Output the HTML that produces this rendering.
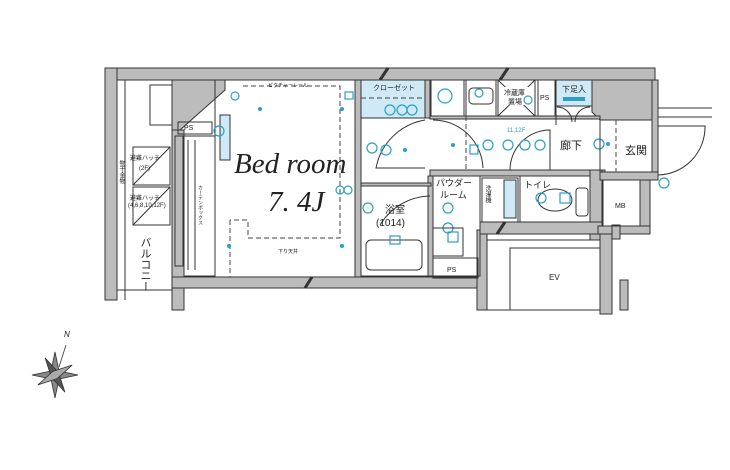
<!DOCTYPE html>
<html><head><meta charset="utf-8"><style>
html,body{margin:0;padding:0;background:#fff;width:730px;height:470px;overflow:hidden}
svg{display:block}
text{font-family:"Liberation Sans","Noto Sans CJK JP",sans-serif;fill:#222}
.w{fill:#bcbcbc;stroke:#333;stroke-width:1}
.l{fill:none;stroke:#333;stroke-width:1}
.d{fill:none;stroke:#444;stroke-width:1;stroke-dasharray:5,3}
.b{fill:none;stroke:#2aa0c8;stroke-width:1.2}
.bf{fill:#2aa0c8}
.lb{fill:#cfeaf6;stroke:#333;stroke-width:1}
</style></head><body>
<svg width="730" height="470" viewBox="0 0 730 470" xmlns="http://www.w3.org/2000/svg">
<rect class="w" x="105" y="68" width="550" height="12"/>
<rect class="w" x="105" y="68" width="12" height="232"/>
<polygon class="w" points="165,80 225,80 225,90 180,130 172,130 172,80"/>
<polygon class="w" points="592,80 655,80 655,120 600,120 592,112"/>
<rect class="w" x="652" y="80" width="6" height="100"/>
<rect class="w" x="172" y="130" width="12" height="180"/>
<rect class="w" x="172" y="277" width="315" height="11"/>
<rect class="w" x="477" y="230" width="10" height="80"/>
<rect class="w" x="355" y="80" width="6" height="197"/>
<rect class="w" x="425" y="80" width="5" height="38"/>
<rect class="w" x="430" y="116" width="170" height="3"/>
<rect class="w" x="430" y="170" width="175" height="6"/>
<rect class="w" x="590" y="170" width="12" height="70"/>
<rect class="w" x="480" y="222" width="122" height="12"/>
<rect class="w" x="600" y="172" width="58" height="8"/>
<rect class="w" x="640" y="180" width="10" height="50"/>
<rect class="w" x="598" y="226" width="52" height="8"/>
<rect class="w" x="600" y="234" width="12" height="80"/>
<rect class="w" x="612" y="225" width="8" height="14"/>
<rect class="w" x="428" y="176" width="5" height="100"/>
<rect class="w" x="361" y="183" width="70" height="3"/>
<line x1="380" y1="80" x2="388" y2="68" stroke="#333" stroke-width="3"/>
<line x1="500" y1="80" x2="508" y2="68" stroke="#333" stroke-width="3"/>
<line x1="305" y1="288" x2="312" y2="277" stroke="#333" stroke-width="3"/>
<line x1="497" y1="234" x2="505" y2="222" stroke="#333" stroke-width="3"/>
<line class="l" x1="125" y1="80" x2="125" y2="300"/>
<rect class="l" x="150" y="85" width="22" height="40"/>
<rect class="l" x="133" y="147" width="37" height="38"/><line class="l" x1="133" y1="185" x2="170" y2="147"/>
<rect class="l" x="133" y="187" width="37" height="38"/><line class="l" x1="133" y1="225" x2="170" y2="187"/>
<rect class="l" x="175" y="136" width="8" height="130"/>
<line class="l" x1="117" y1="290" x2="172" y2="290"/>
<text x="130" y="160" font-size="6">避難ハッチ</text><text x="139" y="170" font-size="6">(2F)</text>
<text x="130" y="200" font-size="6">避難ハッチ</text><text x="128" y="207" font-size="6">(4,6,8,10,12F)</text>
<text x="145" y="237" font-size="11" writing-mode="tb">バルコニー</text>
<text x="121" y="160" font-size="6" writing-mode="tb">物干金物</text>
<text x="184" y="130" font-size="7">PS</text>
<rect class="l" x="178" y="122" width="34" height="12"/>
<rect class="l" x="184" y="136" width="31" height="140"/>
<line class="l" x1="188" y1="140" x2="188" y2="270"/><line class="l" x1="195" y1="140" x2="195" y2="270"/>
<text x="200" y="185" font-size="5" writing-mode="tb">カーテンボックス</text>
<rect class="l" x="215" y="80" width="140" height="197"/>
<path class="d" d="M243,86 H340 V238 H248 V220 H230"/>
<line class="d" x1="230" y1="220" x2="230" y2="277"/>
<text x="268" y="87" font-size="5">ピクチャーレール</text>
<text x="278" y="253" font-size="5">下り天井</text>
<rect class="lb" x="220" y="115" width="10" height="45"/>
<text x="234" y="173" font-size="29" font-style="italic" style="font-family:'Liberation Serif',serif">Bed room</text>
<text x="268" y="211" font-size="29" font-style="italic" style="font-family:'Liberation Serif',serif">7. 4J</text>
<circle class="bf" cx="260" cy="109" r="2"/><circle class="bf" cx="342" cy="109" r="2"/>
<circle class="bf" cx="229" cy="246" r="2"/><circle class="bf" cx="342" cy="246" r="2"/>
<circle class="b" cx="235" cy="96" r="4"/><circle class="b" cx="219" cy="131" r="5"/>
<circle class="b" cx="340" cy="190" r="4"/><circle class="b" cx="348" cy="190" r="4"/>
<rect class="b" x="345" y="92" width="8" height="7"/>
<rect class="lb" x="361" y="80" width="64" height="38"/>
<text x="373" y="90" font-size="7">クローゼット</text>
<line class="d" x1="361" y1="98" x2="425" y2="98"/>
<circle class="b" cx="390" cy="110" r="5"/><circle class="b" cx="402" cy="110" r="5"/><circle class="b" cx="412" cy="110" r="5"/>
<path class="l" d="M425,120 A60,60 0 0 0 376,168 L425,168"/>
<circle class="b" cx="372" cy="148" r="5"/><circle class="b" cx="386" cy="150" r="5"/><circle class="bf" cx="405" cy="150" r="2"/>
<rect class="l" x="361" y="186" width="67" height="90"/>
<path class="l" d="M430,196 A60,60 0 0 0 380,225"/>
<text x="385" y="213" font-size="10">浴室</text>
<text x="376" y="226" font-size="10">(1014)</text>
<rect class="l" x="366" y="240" width="56" height="30" rx="5"/>
<rect class="b" x="390" y="236" width="10" height="8"/>
<circle class="b" cx="368" cy="208" r="5"/>
<rect class="l" x="431" y="80" width="33" height="36"/><circle class="b" cx="445" cy="96" r="7"/>
<rect class="l" x="466" y="80" width="30" height="36"/><rect class="l" x="469" y="88" width="24" height="16" rx="4"/><circle class="b" cx="479" cy="93" r="4"/>
<rect class="l" x="498" y="80" width="37" height="36"/><line class="l" x1="498" y1="80" x2="535" y2="116"/><line class="l" x1="535" y1="80" x2="498" y2="116"/>
<rect x="502" y="87" width="29" height="18" fill="#fff"/>
<text x="504" y="95" font-size="7">冷蔵庫</text><text x="508" y="104" font-size="7">置場</text>
<circle class="b" cx="528" cy="100" r="4"/>
<rect class="l" x="538" y="80" width="17" height="36"/><text x="540" y="100" font-size="7">PS</text>
<rect class="lb" x="556" y="80" width="36" height="26"/><text x="562" y="92" font-size="8">下足入</text>
<rect x="563" y="97" width="22" height="4" fill="#2aa0c8"/>
<line class="l" x1="556" y1="106" x2="556" y2="125"/>
<path class="l" d="M557,107 A15,15 0 0 1 572,122 M590,107 A15,15 0 0 0 575,122"/>
<line class="d" x1="466" y1="116" x2="466" y2="170"/>
<path class="l" d="M433,120 A50,50 0 0 1 483,168"/>
<path class="l" d="M510,170 A40,40 0 0 1 550,130 L550,170"/>
<text x="507" y="132" font-size="6" style="fill:#2aa0c8">11,12F</text>
<text x="560" y="149" font-size="11">廊下</text>
<circle class="b" cx="488" cy="145" r="5"/><circle class="b" cx="508" cy="145" r="5"/><circle class="b" cx="525" cy="145" r="5"/><circle class="b" cx="540" cy="145" r="5"/>
<circle class="b" cx="599" cy="144" r="5"/><circle class="bf" cx="608" cy="144" r="2"/>
<circle class="bf" cx="453" cy="145" r="2"/>
<rect class="b" x="470" y="145" width="8" height="9"/>
<line class="l" x1="600" y1="120" x2="600" y2="172"/>
<line class="d" x1="616" y1="120" x2="616" y2="172"/>
<text x="625" y="154" font-size="11">玄関</text>
<line class="l" x1="658" y1="108" x2="712" y2="108"/><line class="l" x1="658" y1="117" x2="712" y2="117"/>
<path class="l" d="M658,126 L705,126 A48,48 0 0 1 658,175"/>
<circle class="b" cx="664" cy="183" r="5"/>
<rect class="l" x="433" y="176" width="47" height="100"/>
<text x="436" y="186" font-size="9">パウダー</text><text x="440" y="198" font-size="9">ルーム</text>
<circle class="b" cx="448" cy="208" r="5"/><circle class="b" cx="448" cy="228" r="5"/>
<rect class="l" x="433" y="228" width="30" height="28"/><rect class="b" x="448" y="232" width="10" height="10"/>
<rect class="l" x="433" y="258" width="45" height="20"/><text x="447" y="272" font-size="7">PS</text>
<rect class="l" x="482" y="178" width="36" height="44"/>
<rect class="lb" x="504" y="180" width="12" height="38"/>
<text x="487" y="185" font-size="6" writing-mode="tb">洗濯機</text>
<rect class="l" x="520" y="176" width="70" height="46"/>
<text x="524" y="188" font-size="9">トイレ</text>
<ellipse class="l" cx="555" cy="200" rx="17" ry="11"/>
<rect class="l" x="576" y="188" width="12" height="28" rx="3"/>
<circle class="b" cx="541" cy="198" r="5"/>
<rect class="b" x="560" y="193" width="10" height="10"/>
<rect class="l" x="603" y="180" width="37" height="46"/><text x="615" y="208" font-size="7">MB</text>
<rect class="l" x="487" y="240" width="113" height="70"/>
<rect class="l" x="510" y="248" width="90" height="62"/>
<text x="549" y="280" font-size="8">EV</text>
<line class="l" x1="612" y1="240" x2="612" y2="310"/>
<rect class="w" x="620" y="280" width="8" height="30"/>
<g transform="translate(55,375)" stroke="#333" fill="#888" stroke-width=".8">
<polygon points="0,-23 4,-4 23,0 4,4 0,23 -4,4 -23,0 -4,-4"/>
<polygon points="-14,-14 3,-3 14,14 -3,3" transform="rotate(15)" fill="#555"/>
<polygon points="14,-14 3,3 -14,14 -3,-3" transform="rotate(15)" fill="#aaa"/>
<line x1="4" y1="-8" x2="11" y2="-30"/>
</g>
<text x="64" y="337" font-size="8" font-style="italic">N</text>
</svg>
</body></html>
